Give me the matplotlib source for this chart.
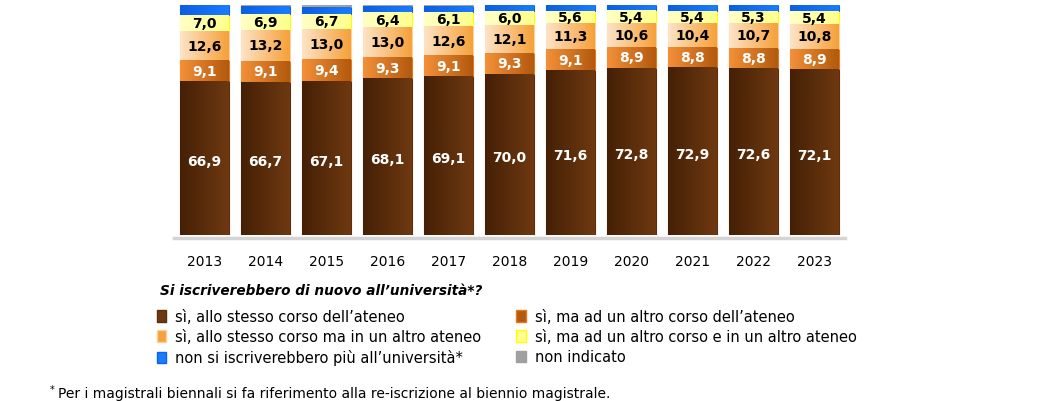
import numpy as np
import matplotlib
matplotlib.use("Agg")
import matplotlib.pyplot as plt
from matplotlib.colors import LinearSegmentedColormap
from matplotlib.patches import Patch

years = ["2013", "2014", "2015", "2016", "2017", "2018", "2019", "2020", "2021", "2022", "2023"]
stesso_corso = [66.9, 66.7, 67.1, 68.1, 69.1, 70.0, 71.6, 72.8, 72.9, 72.6, 72.1]
altro_corso_ateneo = [9.1, 9.1, 9.4, 9.3, 9.1, 9.3, 9.1, 8.9, 8.8, 8.8, 8.9]
stesso_corso_altro_ateneo = [12.6, 13.2, 13.0, 13.0, 12.6, 12.1, 11.3, 10.6, 10.4, 10.7, 10.8]
altro_corso_altro_ateneo = [7.0, 6.9, 6.7, 6.4, 6.1, 6.0, 5.6, 5.4, 5.4, 5.3, 5.4]
non_iscriverebbero = [4.2, 3.8, 2.8, 2.9, 2.8, 2.4, 2.2, 2.1, 2.3, 2.4, 2.6]
non_indicato = [0.2, 0.3, 1.0, 0.3, 0.3, 0.2, 0.2, 0.2, 0.2, 0.2, 0.2]

series_labels = [
    "sì, allo stesso corso dell\u2019ateneo",
    "sì, ma ad un altro corso dell\u2019ateneo",
    "sì, allo stesso corso ma in un altro ateneo",
    "sì, ma ad un altro corso e in un altro ateneo",
    "non si iscriverebbero più all\u2019università*",
    "non indicato",
]
series = [stesso_corso, altro_corso_ateneo, stesso_corso_altro_ateneo,
          altro_corso_altro_ateneo, non_iscriverebbero, non_indicato]
grad = [("#452005", "#6e3911"), ("#f39038", "#b35a0e"), ("#fde3c6", "#f6a13a"),
        ("#ffffc4", "#ffff8c"), ("#0b5fe2", "#1a7bff"), ("#a8a8a8", "#a0a0a0")]
edges = ["#5e2e0c", "#e8761a", "#fbd0a0", "#ffff00", "#0a64f0", "#a0a0a0"]
txtcol = ["white", "white", "black", "black", None, None]

fig = plt.figure(figsize=(10.52, 4.02), dpi=100)
ax = fig.add_axes([174/1052, 1-236/402, 671/1052, 230/402])

x = np.arange(len(years))
bottom = np.zeros(len(years))
for i, vals in enumerate(series):
    vals = np.array(vals)
    bars = ax.bar(x, vals, bottom=bottom, width=0.79, color=grad[i][0],
                  edgecolor=edges[i], linewidth=0.8, zorder=2)
    cmap = LinearSegmentedColormap.from_list(f"g{i}", [grad[i][0], grad[i][1]])
    g = np.linspace(0, 1, 64).reshape(1, -1)
    for b in bars:
        bx, by = b.get_x(), b.get_y()
        w, h = b.get_width(), b.get_height()
        if h <= 0:
            continue
        im = ax.imshow(g, cmap=cmap, aspect="auto", extent=[bx, bx + w, by, by + h],
                       zorder=2.5, interpolation="bilinear")
        im.set_clip_path(b)
    if txtcol[i] is not None:
        for xi, v, b0 in zip(x, vals, bottom):
            ax.text(xi, b0 + v / 2 - (1.2 if i == 0 else 0), f"{v:.1f}".replace(".", ","),
                    ha="center", va="center",
                    color=txtcol[i], fontsize=10, fontweight="bold", zorder=4)
    bottom = bottom + vals

ax.set_xlim(-0.5, len(years) - 0.5)
ax.set_ylim(0, 100)
ax.set_yticks([])
ax.set_xticks(x)
ax.set_xticklabels(years, fontsize=9.5)
ax.tick_params(axis="x", length=0, pad=12)
for s in ["top", "right", "left"]:
    ax.spines[s].set_visible(False)
ax.spines["bottom"].set_color("#d4d4d4")
ax.spines["bottom"].set_linewidth(2.5)
ax.spines["bottom"].set_position(("outward", 2))

fig.text(160/1052, 1-291/402, "Si iscriverebbero di nuovo all\u2019università*?",
         fontsize=9.8, fontweight="bold", style="italic", va="center", ha="left")

handles = [Patch(facecolor=grad[i][1], edgecolor=edges[i], label=series_labels[i]) for i in range(6)]
order = [0, 2, 4, 1, 3, 5]
fig.legend([handles[k] for k in order], [series_labels[k] for k in order],
           loc="upper left", bbox_to_anchor=(157/1052, 1-310/402), ncol=2, frameon=False,
           handlelength=0.65, handleheight=0.8, handletextpad=0.6,
           columnspacing=2.4, labelspacing=0.35, borderaxespad=0, borderpad=0,
           prop={"size": 10.5})

fig.text(50/1052, 1-390/402, "*", fontsize=7, va="center", ha="left")
fig.text(58/1052, 1-394/402,
         "Per i magistrali biennali si fa riferimento alla re-iscrizione al biennio magistrale.",
         fontsize=10, va="center", ha="left")

fig.savefig("out.png", dpi=100)
